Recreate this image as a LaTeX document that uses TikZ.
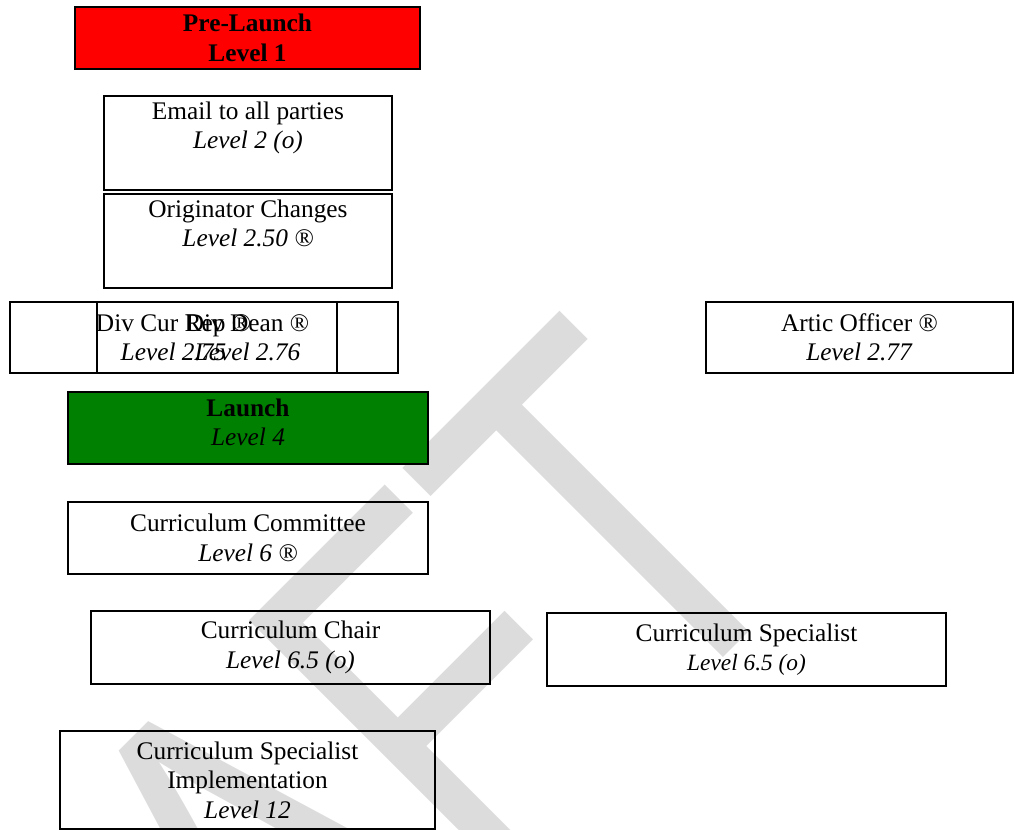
\documentclass[tikz,border=0pt]{standalone}
\usepackage{fontspec}
\setmainfont{Liberation Serif}
\newfontfamily\wmfont{Liberation Sans}
\usepackage{tikz}
\usetikzlibrary{positioning}
\definecolor{prered}{RGB}{255,0,0}
\definecolor{launchgreen}{RGB}{0,128,0}
\definecolor{wmgray}{RGB}{220,220,220}

\begin{document}
\begin{tikzpicture}[x=0.75pt,y=-0.75pt,
  frame/.style={draw=black, line width=1.5pt, inner sep=0pt, align=center, font=\fontsize{19}{22}\selectfont},
  lbl/.style={inner sep=0pt, align=center, font=\fontsize{19}{22}\selectfont}]
  \useasboundingbox (0,0) rectangle (1014,830);

  % Draw the watermark
  \begin{scope}
    \clip (0,0) rectangle (1014,830);
    \node[rotate=45, anchor=base east, inner sep=0pt, text=wmgray, font=\wmfont\fontsize{393}{400}\selectfont] (draft) at (821,559) {\scalebox{0.75}[1]{DRAFT}};
  \end{scope}

  % Draw the level boxes
  \node[frame, fill=prered, minimum width=258.75pt, minimum height=46.5pt, font=\fontsize{19}{22}\selectfont\bfseries] (prelaunch) at (247.5,38) {Pre-Launch\\Level 1};

  \node[frame, minimum width=216pt, minimum height=70.5pt] (email) at (248,143) {};
  \node[lbl, below=5pt of email.north] (emailtxt) {Email to all parties\\\textit{Level 2 (o)}};

  \node[frame, minimum width=216pt, minimum height=70.5pt] (orig) at (248,241) {};
  \node[lbl, below=5pt of orig.north] (origtxt) {Originator Changes\\\textit{Level 2.50 ®}};

  \node[frame, minimum width=245.25pt, minimum height=53.25pt] (divrep) at (173.5,337.5) {Div Cur Rep ®\\\textit{Level 2.75}};
  \node[frame, minimum width=225.75pt, minimum height=53.25pt] (divdean) at (247.5,337.5) {Div Dean ®\\\textit{Level 2.76}};
  \node[frame, minimum width=230.25pt, minimum height=53.25pt] (artic) at (859.5,337.5) {Artic Officer ®\\\textit{Level 2.77}};

  \node[frame, fill=launchgreen, minimum width=270pt, minimum height=54pt] (launch) at (248,428) {};
  \node[lbl, yshift=4pt] (launchtxt) at (launch.center) {\textbf{Launch}\\\textit{Level 4}};

  \node[frame, minimum width=270pt, minimum height=54pt] (committee) at (248,538) {Curriculum Committee\\\textit{Level 6 ®}};

  \node[frame, minimum width=299.25pt, minimum height=54.75pt] (chair) at (290.5,647.5) {Curriculum Chair\\\textit{Level 6.5 (o)}};
  \node[frame, minimum width=299.25pt, minimum height=54.75pt] (specialist) at (746.5,649.5) {Curriculum Specialist\\{\fontsize{17.5}{22}\selectfont\textit{Level 6.5 (o)}}};

  \node[frame, minimum width=281.25pt, minimum height=73.5pt] (implement) at (247.5,780) {Curriculum Specialist\\Implementation\\\textit{Level 12}};
\end{tikzpicture}
\end{document}
